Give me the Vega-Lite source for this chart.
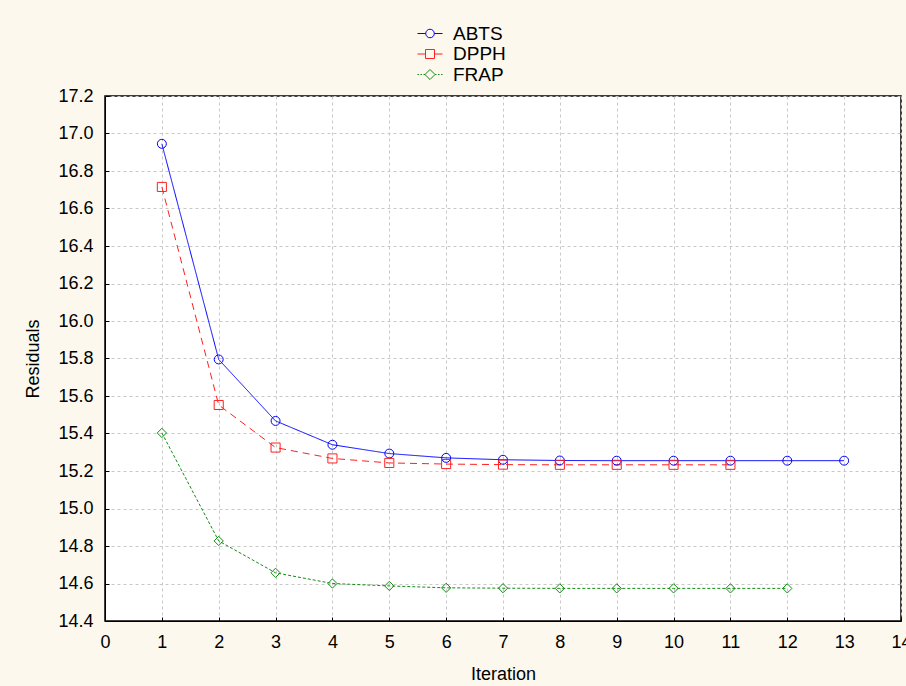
{
  "$schema": "https://vega.github.io/schema/vega-lite/v6.json",
  "width": 796,
  "height": 525,
  "autosize": {"type": "none"},
  "padding": {"left": 105, "top": 96, "right": 5, "bottom": 65},
  "background": "#fcf8ed",
  "config": {
    "view": {"fill": "white", "stroke": "#000000", "strokeWidth": 1.5},
    "font": "Liberation Sans",
    "axis": {
      "labelFont": "Liberation Sans",
      "labelFontSize": 18,
      "labelColor": "#000000",
      "titleFont": "Liberation Sans",
      "titleFontSize": 18,
      "titleFontWeight": "normal",
      "titleColor": "#000000",
      "grid": true,
      "gridColor": "#c8c8c8",
      "gridDash": [3, 3],
      "gridWidth": 1,
      "domainColor": "#000000",
      "tickColor": "#000000",
      "tickSize": -4,
      "labelPadding": 16
    }
  },
  "data": {
    "values": [
      {"iter": 1, "series": "ABTS", "value": 16.945},
      {"iter": 2, "series": "ABTS", "value": 15.795},
      {"iter": 3, "series": "ABTS", "value": 15.467},
      {"iter": 4, "series": "ABTS", "value": 15.34},
      {"iter": 5, "series": "ABTS", "value": 15.293},
      {"iter": 6, "series": "ABTS", "value": 15.27},
      {"iter": 7, "series": "ABTS", "value": 15.26},
      {"iter": 8, "series": "ABTS", "value": 15.256},
      {"iter": 9, "series": "ABTS", "value": 15.255},
      {"iter": 10, "series": "ABTS", "value": 15.255},
      {"iter": 11, "series": "ABTS", "value": 15.255},
      {"iter": 12, "series": "ABTS", "value": 15.255},
      {"iter": 13, "series": "ABTS", "value": 15.255},
      {"iter": 1, "series": "DPPH", "value": 16.715},
      {"iter": 2, "series": "DPPH", "value": 15.552},
      {"iter": 3, "series": "DPPH", "value": 15.325},
      {"iter": 4, "series": "DPPH", "value": 15.267},
      {"iter": 5, "series": "DPPH", "value": 15.243},
      {"iter": 6, "series": "DPPH", "value": 15.237},
      {"iter": 7, "series": "DPPH", "value": 15.234},
      {"iter": 8, "series": "DPPH", "value": 15.233},
      {"iter": 9, "series": "DPPH", "value": 15.233},
      {"iter": 10, "series": "DPPH", "value": 15.233},
      {"iter": 11, "series": "DPPH", "value": 15.233},
      {"iter": 1, "series": "FRAP", "value": 15.403},
      {"iter": 2, "series": "FRAP", "value": 14.827},
      {"iter": 3, "series": "FRAP", "value": 14.657},
      {"iter": 4, "series": "FRAP", "value": 14.6},
      {"iter": 5, "series": "FRAP", "value": 14.587},
      {"iter": 6, "series": "FRAP", "value": 14.577},
      {"iter": 7, "series": "FRAP", "value": 14.575},
      {"iter": 8, "series": "FRAP", "value": 14.574},
      {"iter": 9, "series": "FRAP", "value": 14.574},
      {"iter": 10, "series": "FRAP", "value": 14.574},
      {"iter": 11, "series": "FRAP", "value": 14.574},
      {"iter": 12, "series": "FRAP", "value": 14.574}
    ]
  },
  "encoding": {
    "x": {
      "field": "iter",
      "type": "quantitative",
      "title": "Iteration",
      "scale": {"domain": [0, 14], "nice": false, "zero": false},
      "axis": {"values": [0,1,2,3,4,5,6,7,8,9,10,11,12,13,14], "format": "d", "titlePadding": 14, "labelFlush": false, "labelOverlap": false}
    },
    "y": {
      "field": "value",
      "type": "quantitative",
      "title": "Residuals",
      "scale": {"domain": [14.4, 17.2], "nice": false, "zero": false},
      "axis": {"values": [14.4,14.6,14.8,15.0,15.2,15.4,15.6,15.8,16.0,16.2,16.4,16.6,16.8,17.0,17.2], "format": ".1f", "titlePadding": 15, "labelFlush": false, "labelOverlap": false}
    },
    "color": {
      "field": "series",
      "type": "nominal",
      "scale": {"domain": ["ABTS", "DPPH", "FRAP"], "range": ["#0000ff", "#ff2020", "#118c11"]}
    }
  },
  "layer": [
    {
      "mark": {"type": "line", "strokeWidth": 1},
      "encoding": {
        "color": {"field": "series", "type": "nominal", "legend": null},
        "strokeDash": {
          "field": "series",
          "type": "nominal",
          "legend": null,
          "scale": {"domain": ["ABTS", "DPPH", "FRAP"], "range": [[1, 0], [7, 5], [3, 2]]}
        }
      }
    },
    {
      "mark": {"type": "point", "filled": false, "strokeWidth": 1, "opacity": 1},
      "encoding": {
        "color": {"field": "series", "type": "nominal", "legend": null},
        "shape": {
          "field": "series",
          "type": "nominal",
          "legend": null,
          "scale": {"domain": ["ABTS", "DPPH", "FRAP"], "range": ["circle", "square", "diamond"]}
        },
        "size": {
          "field": "series",
          "type": "nominal",
          "legend": null,
          "scale": {"domain": ["ABTS", "DPPH", "FRAP"], "range": [80, 85, 120]}
        }
      }
    },
    {
      "transform": [{"filter": "datum.series == 'legend-only'"}],
      "mark": {"type": "point", "filled": false, "strokeWidth": 1, "opacity": 1, "size": 225},
      "encoding": {
        "color": {
          "field": "series",
          "type": "nominal",
          "legend": {
            "title": null,
            "orient": "none",
            "legendX": 315.5,
            "legendY": -72,
            "padding": 0,
            "direction": "vertical",
            "labelFont": "Liberation Sans",
            "labelFontSize": 19,
            "labelColor": "#000000",
            "labelOffset": 13.5,
            "rowPadding": 0.5,
            "symbolSize": 225,
            "symbolStrokeWidth": 1
          }
        },
        "shape": {
          "field": "series",
          "type": "nominal",
          "scale": {
            "domain": ["ABTS", "DPPH", "FRAP"],
            "range": [
              "M-1.67,0H-0.57M0.57,0H1.67M0.57,0A0.57,0.57,0,1,1,-0.57,0A0.57,0.57,0,1,1,0.57,0Z",
              "M-1.67,0H-0.6M0.6,0H1.67M-0.6,-0.6H0.6V0.6H-0.6Z",
              "M-1.67,0H-1.47M-1.27,0H-1.07M-0.87,0H-0.67M0.67,0H0.87M1.07,0H1.27M1.47,0H1.67M0,-0.67L0.67,0L0,0.67L-0.67,0Z"
            ]
          },
          "legend": {
            "title": null,
            "orient": "none",
            "legendX": 315.5,
            "legendY": -72,
            "padding": 0,
            "direction": "vertical",
            "labelFont": "Liberation Sans",
            "labelFontSize": 19,
            "labelColor": "#000000",
            "labelOffset": 13.5,
            "rowPadding": 0.5,
            "symbolSize": 225,
            "symbolStrokeWidth": 1
          }
        }
      }
    }
  ],
  "resolve": {
    "scale": {"shape": "independent", "size": "independent"},
    "legend": {"color": "independent", "shape": "independent"}
  }
}
